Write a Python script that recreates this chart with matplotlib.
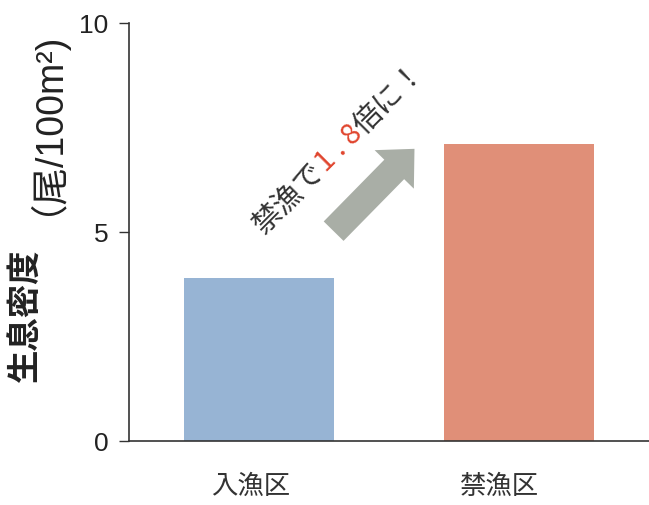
import matplotlib
matplotlib.use("Agg")
import matplotlib.pyplot as plt
import matplotlib.transforms as mtransforms
from matplotlib.patches import FancyArrowPatch
from matplotlib.font_manager import FontProperties
from matplotlib.textpath import TextToPath
import numpy as np

categories = ["入漁区", "禁漁区"]
values = [3.9, 7.1]
bar_colors = ["#97b4d4", "#e08f78"]
yticks = [0, 5, 10]
ytick_labels = ["0", "5", "10"]
ratio_text = ["禁漁で", "1 . 8", "倍に！"]
ratio_colors = ["#333333", "#e0452e", "#333333"]
ylabel_bold = "生息密度"
ylabel_unit = "（尾/100m²)"

CJK = ["Noto Sans CJK JP", "DejaVu Sans"]
plt.rcParams["font.family"] = CJK

fig = plt.figure(figsize=(6.49, 5.06), dpi=100)
fig.patch.set_facecolor("white")
ax = fig.add_axes([129 / 649, 64 / 506, 520 / 649, 418 / 506])

x = np.arange(len(categories))
ax.bar(x, values, width=0.58, color=bar_colors)
ax.set_xlim(-0.5, 1.5)
ax.set_ylim(0, 10)

for s in ["top", "right"]:
    ax.spines[s].set_visible(False)
for s in ["left", "bottom"]:
    ax.spines[s].set_color("#333333")
    ax.spines[s].set_linewidth(1.2)

ax.set_yticks(yticks)
ax.set_yticklabels(ytick_labels, family=["Liberation Sans"], fontsize=19, color="#222222")
ax.tick_params(axis="y", direction="out", length=7, width=1.0, color="#333333", pad=8)
ax.set_xticks(x)
ax.set_xticklabels(categories, fontsize=19, color="#333333")
ax.tick_params(axis="x", length=0, pad=22)
for lab, dx in zip(ax.get_xticklabels(), [-8, -20]):
    lab.set_transform(lab.get_transform() +
                      mtransforms.ScaledTranslation(dx / 100, 0, fig.dpi_scale_trans))

# arrow between bars
arrow = FancyArrowPatch((0.287, 5.02), (0.598, 6.99),
                        arrowstyle="simple,head_length=1.04,head_width=1.98,tail_width=1.0",
                        mutation_scale=20, color="#a9aea6", shrinkA=0, shrinkB=0, lw=0)
ax.add_patch(arrow)

# multi-colour rotated annotation
fs = 21
prop = FontProperties(family="Noto Sans CJK JP", size=fs)
t2p = TextToPath()
ang = np.deg2rad(45)
off = 0.0
for seg, col in zip(ratio_text, ratio_colors):
    ax.annotate(seg, xy=(0.021, 4.95), xycoords="data",
                xytext=(off * np.cos(ang), off * np.sin(ang)), textcoords="offset points",
                rotation=45, rotation_mode="anchor", ha="left", va="baseline",
                fontsize=fs, color=col)
    w, h, d = t2p.get_text_width_height_descent(seg, prop, ismath=False)
    off += w

# y label: bold + unit
fig.text(26 / 649, 1 - 315 / 506, ylabel_bold, rotation=90, ha="center", va="center",
         fontsize=24, fontweight="bold", color="#222222")
fig.text(26 / 649, 1 - 113 / 506, ylabel_unit, rotation=90, ha="center", va="center",
         fontsize=27, family=["Liberation Sans", "Noto Sans CJK JP"], color="#222222")

fig.savefig("out.png", dpi=100)
